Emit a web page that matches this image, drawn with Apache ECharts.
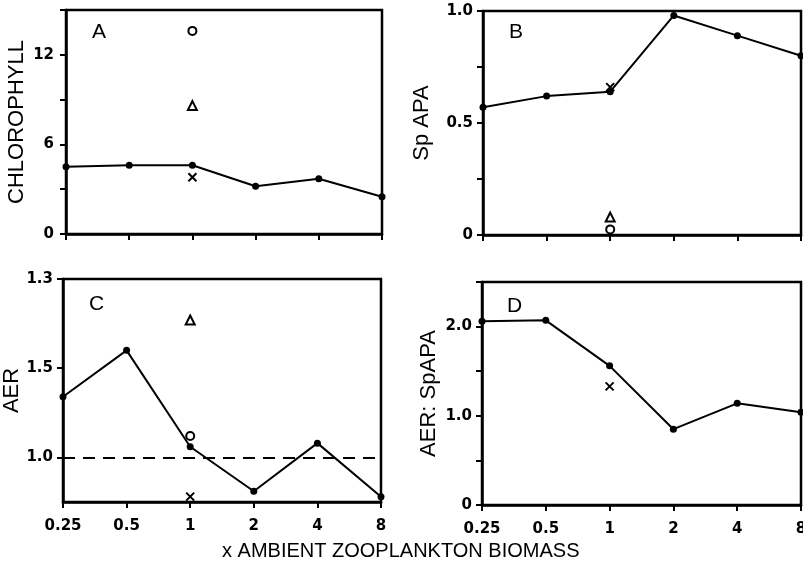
<!DOCTYPE html>
<html>
<head>
<meta charset="utf-8">
<script src="https://cdn.jsdelivr.net/npm/echarts@6/dist/echarts.min.js"></script>
<style>html,body{margin:0;padding:0;background:#fff}#c{width:803px;height:568px}</style>
</head>
<body>
<div id="c"></div>
<script>
// ---- data ----
const categories = ['0.25', '0.5', '1', '2', '4', '8'];

const chlorophyll = [4.5, 4.6, 4.6, 3.2, 3.7, 2.5];
const chlCircle = 13.6, chlTriangle = 8.6, chlCross = 3.8;

const spapa = [0.57, 0.62, 0.64, 0.98, 0.89, 0.80];
const spapaCircle = 0.025, spapaTriangle = 0.08, spapaCross = 0.66;

const aer = [1.34, 1.60, 1.06, 0.81, 1.08, 0.78];
const aerCircle = 1.12, aerTriangle = 1.77, aerCross = 0.78;
const aerReference = 1.0;

const aerSpapa = [2.06, 2.07, 1.56, 0.85, 1.14, 1.04];
const aerSpapaCross = 1.33;

// tick labels
const ticksA = [0, 6, 12], labelsA = ['0', '6', '12'];
const ticksB = [0, 0.5, 1.0], labelsB = ['0', '0.5', '1.0'];
const ticksC = [1.0, 1.5, 2.0], labelsC = ['1.0', '1.5', '1.3'];
const ticksD = [0, 1.0, 2.0], labelsD = ['0', '1.0', '2.0'];

const markerAt = '1';

// ---- chart ----
const chart = echarts.init(document.getElementById('c'), null, {renderer: 'canvas'});
const black = '#000';
const tickFont = {fontFamily: 'DejaVu Sans', fontWeight: 'bold', fontSize: 15, color: black};
const nameFont = {fontFamily: 'Liberation Sans', fontSize: 22, color: black};

function fmt(ticks, labels) {
  return function (v) {
    const i = ticks.findIndex(t => Math.abs(t - v) < 1e-9);
    return i >= 0 ? labels[i] : '';
  };
}

const grids = [
  {left: 66, top: 10, width: 316, height: 224},
  {left: 483, top: 11, width: 318, height: 224},
  {left: 63, top: 279, width: 318, height: 223},
  {left: 482, top: 282, width: 319, height: 223}
].map(g => Object.assign({show: true, containLabel: false, outerBoundsMode: 'none',
  borderColor: black, borderWidth: 2.5, backgroundColor: 'transparent'}, g));

function xAxis(i, showLabels) {
  return {
    type: 'category', gridIndex: i, data: categories, boundaryGap: false,
    axisLine: {lineStyle: {color: black, width: 2.5}},
    axisTick: {show: true, inside: false, length: 6, alignWithLabel: true, lineStyle: {color: black, width: 2}},
    axisLabel: Object.assign({show: showLabels, margin: 17, interval: 0, hideOverlap: false}, tickFont),
    splitLine: {show: false}
  };
}

function yAxis(i, opts, name, nameGap) {
  return Object.assign({
    type: 'value', gridIndex: i,
    name: name, nameLocation: 'middle', nameRotate: 90, nameGap: nameGap,
    nameTextStyle: nameFont,
    axisLine: {show: true, lineStyle: {color: black, width: 2.5}},
    axisTick: {show: true, inside: false, length: 6, lineStyle: {color: black, width: 2}},
    splitLine: {show: false}
  }, opts);
}

const yAxes = [
  yAxis(0, {min: 0, max: 15, interval: 3,
    axisLabel: Object.assign({margin: 12, formatter: fmt(ticksA, labelsA)}, tickFont)}, 'CHLOROPHYLL', 38),
  yAxis(1, {min: 0, max: 1, interval: 0.25,
    axisLabel: Object.assign({margin: 10, formatter: fmt(ticksB, labelsB)}, tickFont)}, 'Sp APA', 50),
  yAxis(2, {min: 0.75, max: 2.0,
    axisTick: {show: true, inside: false, length: 6, customValues: ticksC, lineStyle: {color: black, width: 2}},
    axisLabel: Object.assign({margin: 10, customValues: ticksC, formatter: fmt(ticksC, labelsC)}, tickFont)}, 'AER', 36),
  yAxis(3, {min: 0, max: 2.5, interval: 0.5,
    axisLabel: Object.assign({margin: 10, formatter: fmt(ticksD, labelsD)}, tickFont)}, 'AER: SpAPA', 42)
];

function lineSeries(i, data) {
  return {
    type: 'line', xAxisIndex: i, yAxisIndex: i, data: data,
    symbol: 'circle', symbolSize: 7, showSymbol: true,
    lineStyle: {color: black, width: 2}, itemStyle: {color: black, opacity: 1},
    animation: false, z: 3
  };
}
function marker(i, value, kind) {
  const base = {type: 'scatter', xAxisIndex: i, yAxisIndex: i, data: [[markerAt, value]], animation: false, z: 4};
  if (kind === 'circle') return Object.assign(base, {symbol: 'emptyCircle', symbolSize: 8, itemStyle: {color: black, borderColor: black, borderWidth: 2, opacity: 1}});
  if (kind === 'triangle') return Object.assign(base, {symbol: 'emptyTriangle', symbolSize: 9, itemStyle: {color: black, borderColor: black, borderWidth: 2, opacity: 1}});
  return Object.assign(base, {symbol: 'path://M0,0L10,10M10,0L0,10', symbolSize: 8, itemStyle: {color: 'none', borderColor: black, borderWidth: 2, opacity: 1}});
}

const series = [
  lineSeries(0, chlorophyll),
  marker(0, chlCircle, 'circle'), marker(0, chlTriangle, 'triangle'), marker(0, chlCross, 'cross'),
  lineSeries(1, spapa),
  marker(1, spapaCircle, 'circle'), marker(1, spapaTriangle, 'triangle'), marker(1, spapaCross, 'cross'),
  Object.assign(lineSeries(2, aer), {
    markLine: {silent: true, symbol: 'none', label: {show: false},
      lineStyle: {color: black, type: [12, 8], width: 2},
      data: [{yAxis: aerReference}]}
  }),
  marker(2, aerCircle, 'circle'), marker(2, aerTriangle, 'triangle'), marker(2, aerCross, 'cross'),
  lineSeries(3, aerSpapa),
  marker(3, aerSpapaCross, 'cross')
];

const letterStyle = {fontFamily: 'Liberation Sans', fontSize: 21, fill: black};
const graphic = [
  {type: 'text', left: 92, top: 22, style: Object.assign({text: 'A'}, letterStyle)},
  {type: 'text', left: 509, top: 22, style: Object.assign({text: 'B'}, letterStyle)},
  {type: 'text', left: 89, top: 294, style: Object.assign({text: 'C'}, letterStyle)},
  {type: 'text', left: 507, top: 296, style: Object.assign({text: 'D'}, letterStyle)},
  {type: 'text', left: 222, top: 541, style: {text: 'x AMBIENT ZOOPLANKTON BIOMASS', fontFamily: 'Liberation Sans', fontSize: 20, fill: black}}
];

chart.setOption({
  animation: false,
  backgroundColor: '#fff',
  grid: grids,
  xAxis: [xAxis(0, false), xAxis(1, false), xAxis(2, true), xAxis(3, true)],
  yAxis: yAxes,
  series: series,
  graphic: graphic
});
</script>
</body>
</html>
